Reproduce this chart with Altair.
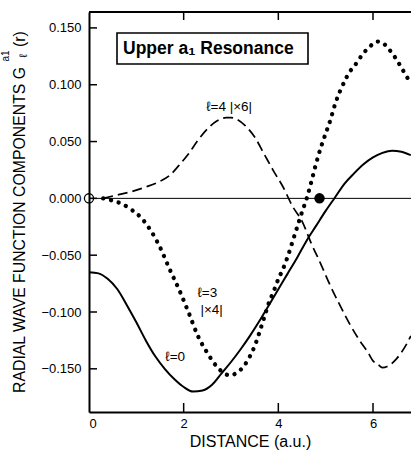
import altair as alt
import pandas as pd

# ---- curve data -------------------------------------------------------------
# l = 0 component
l0_x = [0, 0.2, 0.4, 0.6, 0.8, 1.0, 1.2, 1.4, 1.6, 1.8, 2.0, 2.2, 2.4, 2.6, 2.8,
        3.0, 3.2, 3.4, 3.6, 3.8, 4.0, 4.2, 4.4, 4.6, 4.8, 5.0, 5.2, 5.4, 5.6,
        5.8, 6.0, 6.2, 6.4, 6.6, 6.8]
l0_y = [-0.065, -0.066, -0.071, -0.080, -0.094, -0.109, -0.125, -0.139, -0.150,
        -0.159, -0.166, -0.170, -0.169, -0.164, -0.154, -0.144, -0.133, -0.121,
        -0.108, -0.094, -0.080, -0.066, -0.052, -0.037, -0.024, -0.011, 0.001,
        0.013, 0.022, 0.030, 0.036, 0.040, 0.042, 0.041, 0.038]

# l = 3 component, scaled x4
l3_x = [0.3, 0.5, 0.7, 0.9, 1.1, 1.3, 1.5, 1.7, 1.9, 2.1, 2.3, 2.5, 2.7, 2.9, 3.0,
        3.1, 3.2, 3.3, 3.4, 3.5, 3.6, 3.7, 3.8, 3.9, 4.0, 4.1, 4.2, 4.3, 4.4,
        4.5, 4.6, 4.7, 4.8, 4.9, 5.0, 5.1, 5.2, 5.3, 5.4, 5.5, 5.6, 5.7, 5.8,
        5.9, 6.0, 6.1, 6.2, 6.3, 6.4, 6.5, 6.6, 6.7, 6.8]
l3_y = [0.000, -0.002, -0.005, -0.010, -0.017, -0.028, -0.043, -0.062, -0.080,
        -0.100, -0.121, -0.136, -0.148, -0.155, -0.156, -0.154, -0.151, -0.146,
        -0.139, -0.130, -0.118, -0.105, -0.092, -0.082, -0.071, -0.062, -0.051,
        -0.038, -0.025, -0.012, 0.000, 0.015, 0.031, 0.045, 0.057, 0.069, 0.083,
        0.094, 0.103, 0.111, 0.116, 0.122, 0.128, 0.132, 0.136, 0.138, 0.137,
        0.133, 0.128, 0.122, 0.115, 0.108, 0.101]

# l = 4 component, scaled x6
l4_x = [0.3, 0.6, 0.9, 1.2, 1.5, 1.7, 1.9, 2.1, 2.3, 2.5, 2.7, 2.9, 3.0, 3.1, 3.3,
        3.5, 3.7, 3.9, 4.1, 4.3, 4.5, 4.7, 4.9, 5.1, 5.3, 5.5, 5.7, 5.9, 6.0,
        6.1, 6.2, 6.3, 6.5, 6.7, 6.8]
l4_y = [0.000, 0.003, 0.006, 0.010, 0.015, 0.020, 0.029, 0.039, 0.051, 0.061,
        0.068, 0.071, 0.071, 0.070, 0.064, 0.054, 0.039, 0.024, 0.010, -0.007,
        -0.020, -0.040, -0.058, -0.077, -0.094, -0.110, -0.124, -0.136, -0.143,
        -0.146, -0.149, -0.148, -0.141, -0.129, -0.121]

# special points: origin (open) and node of the l=3 curve (filled)
open_x, open_y = [0.0], [0.0]
node_x, node_y = [4.87], [0.0]

# ticks
x_ticks = [0, 2, 4, 6]
y_ticks = [-0.150, -0.100, -0.050, 0.000, 0.050, 0.100, 0.150]

# curve labels (text, x, y in data units)
lab_text = ["\u2113=4  |\u00d76|", "\u2113=3", "|\u00d74|", "\u2113=0"]
lab_x = [2.96, 2.50, 2.59, 1.82]
lab_y = [0.080, -0.083, -0.098, -0.140]

X_DOMAIN = [0, 6.803]
Y_DOMAIN = [-0.188, 0.164]
W, H = 322, 400
FONT = "Liberation Sans"

xs = alt.Scale(domain=X_DOMAIN, nice=False, zero=False)
ys = alt.Scale(domain=Y_DOMAIN, nice=False, zero=False)

l0 = pd.DataFrame({"x": l0_x, "y": l0_y})
l3 = pd.DataFrame({"x": l3_x, "y": l3_y})
l4 = pd.DataFrame({"x": l4_x, "y": l4_y})
labels = pd.DataFrame({"t": lab_text, "x": lab_x, "y": lab_y})

x_axis = alt.Axis(values=x_ticks, format="d", ticks=False, grid=False,
                  domainColor="black", domainWidth=2, labelFont=FONT,
                  labelFontSize=13, labelColor="black", labelPadding=5,
                  title="DISTANCE (a.u.)", titleFont=FONT, titleFontSize=16,
                  titleFontWeight="normal", titleColor="black", titlePadding=3)
y_axis = alt.Axis(values=y_ticks, format=".3f", ticks=False, grid=False,
                  domainColor="black", domainWidth=2, labelFont=FONT,
                  labelFontSize=13, labelColor="black", labelPadding=8,
                  title=None)

solid = alt.Chart(l0).mark_line(color="black", strokeWidth=2,
                                interpolate="monotone", clip=True).encode(
    x=alt.X("x:Q", scale=xs, axis=x_axis),
    y=alt.Y("y:Q", scale=ys, axis=y_axis),
)

dotted = alt.Chart(l3).mark_line(color="black", strokeWidth=4.3,
                                 strokeCap="round", strokeDash=[0.1, 7.9],
                                 interpolate="monotone", clip=True).encode(
    x=alt.X("x:Q", scale=xs), y=alt.Y("y:Q", scale=ys))

dashed = alt.Chart(l4).mark_line(color="black", strokeWidth=1.7,
                                 strokeDash=[10, 5],
                                 interpolate="monotone", clip=True).encode(
    x=alt.X("x:Q", scale=xs), y=alt.Y("y:Q", scale=ys))

zero_line = alt.Chart(pd.DataFrame({"y": [0.0]})).mark_rule(
    color="black", strokeWidth=1).encode(y=alt.Y("y:Q", scale=ys))

# frame: top border and inward ticks
top_border = alt.Chart(pd.DataFrame({"a": [0]})).mark_rule(
    color="black", strokeWidth=2).encode(
    x=alt.value(0), x2=alt.value(W), y=alt.value(0))

y_tick_marks = alt.Chart(pd.DataFrame({"y": y_ticks})).mark_rule(
    color="black", strokeWidth=1.5).encode(
    y=alt.Y("y:Q", scale=ys), x=alt.value(0), x2=alt.value(8))

x_tick_df = pd.DataFrame({"x": x_ticks[1:]})
x_tick_bottom = alt.Chart(x_tick_df).mark_rule(
    color="black", strokeWidth=1.5).encode(
    x=alt.X("x:Q", scale=xs), y=alt.value(H), y2=alt.value(H - 9))
x_tick_top = alt.Chart(x_tick_df).mark_rule(
    color="black", strokeWidth=1.5).encode(
    x=alt.X("x:Q", scale=xs), y=alt.value(0), y2=alt.value(8))

open_pt = alt.Chart(pd.DataFrame({"x": open_x, "y": open_y})).mark_point(
    shape="circle", size=85, filled=False, color="black", strokeWidth=1.3,
    opacity=1).encode(x=alt.X("x:Q", scale=xs), y=alt.Y("y:Q", scale=ys))

node_pt = alt.Chart(pd.DataFrame({"x": node_x, "y": node_y})).mark_circle(
    size=110, color="black", opacity=1).encode(
    x=alt.X("x:Q", scale=xs), y=alt.Y("y:Q", scale=ys))

curve_labels = alt.Chart(labels).mark_text(
    font=FONT, fontSize=13.5, color="black", align="center",
    baseline="middle").encode(
    x=alt.X("x:Q", scale=xs), y=alt.Y("y:Q", scale=ys), text="t:N")

# boxed title
title_box = alt.Chart(pd.DataFrame({"a": [0]})).mark_rect(
    fill="white", stroke="black", strokeWidth=1.6).encode(
    x=alt.value(28), x2=alt.value(219), y=alt.value(21), y2=alt.value(52))
title_text = alt.Chart(pd.DataFrame({"t": ["Upper  a\u2081 Resonance"]})).mark_text(
    font=FONT, fontSize=17.5, fontWeight="bold", color="black", align="left",
    baseline="middle").encode(x=alt.value(34), y=alt.value(37), text="t:N")

# rotated y-axis title built from pieces (sub/superscripts)
def rot_text(txt, x, y, size, align, baseline="alphabetic"):
    return alt.Chart(pd.DataFrame({"t": [txt]})).mark_text(
        font=FONT, fontSize=size, color="black", angle=270, align=align,
        baseline=baseline).encode(x=alt.value(x), y=alt.value(y), text="t:N")

ytitle_main = rot_text("RADIAL WAVE FUNCTION COMPONENTS G", -64, 55, 15.8, "right")
ytitle_r = rot_text("(r)", -64, 35, 15.8, "left")
ytitle_sup = rot_text("a1", -80, 44, 10, "center")
ytitle_sub = rot_text("\u2113", -62, 44, 11, "center")

chart = alt.layer(
    zero_line, dashed, dotted, solid, open_pt, node_pt, curve_labels,
    y_tick_marks, x_tick_bottom, x_tick_top, top_border,
    title_box, title_text,
    ytitle_main, ytitle_r, ytitle_sup, ytitle_sub,
).properties(
    width=W, height=H,
    autosize=alt.AutoSizeParams(type="none"),
    padding={"left": 89, "top": 12, "right": 0, "bottom": 41},
    background="white",
).configure_view(stroke=None)

chart.save("out.html", embed_options={"renderer": "svg", "actions": False})
